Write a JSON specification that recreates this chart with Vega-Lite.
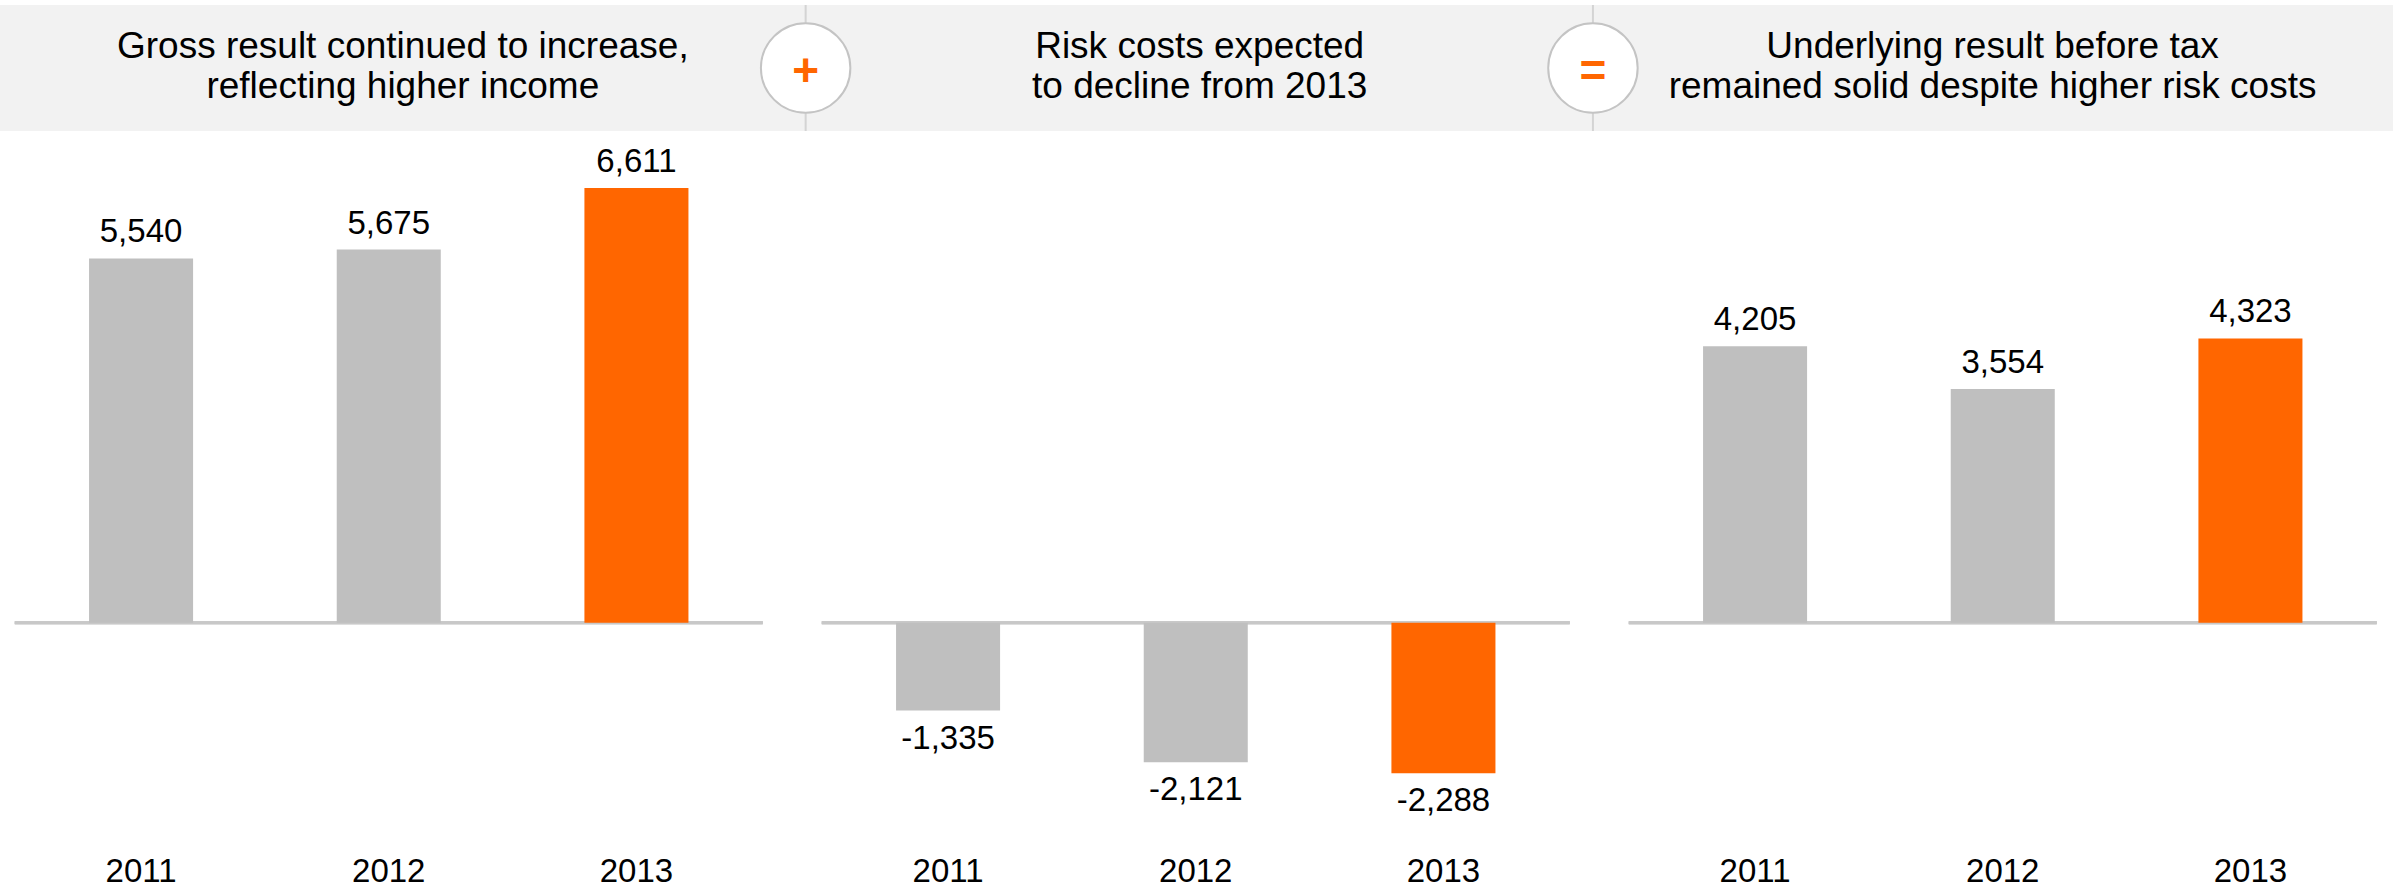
{
  "$schema": "https://vega.github.io/schema/vega-lite/v6.json",
  "padding": {"top": 4, "left": 0, "right": 0, "bottom": 0},
  "background": "white",
  "spacing": 0,
  "center": true,
  "config": {
    "view": {"stroke": null},
    "font": "Liberation Sans",
    "locale": {"number": {"decimal": ".", "thousands": ",", "grouping": [3], "currency": ["$", ""], "minus": "-"}}
  },
  "datasets": {
    "header": [
      {"kind": "title", "pos": 0.505, "label": ["Gross result continued to increase,", "reflecting higher income"]},
      {"kind": "title", "pos": 1.504, "label": ["Risk costs expected", "to decline from 2013"]},
      {"kind": "title", "pos": 2.498, "label": ["Underlying result before tax", "remained solid despite higher risk costs"]},
      {"kind": "op", "pos": 1.01, "label": "+"},
      {"kind": "op", "pos": 1.997, "label": "="}
    ],
    "bars": [
      {"panel": "Gross result", "year": "2011", "value": 5540},
      {"panel": "Gross result", "year": "2012", "value": 5675},
      {"panel": "Gross result", "year": "2013", "value": 6611},
      {"panel": "Risk costs", "year": "2011", "value": -1335},
      {"panel": "Risk costs", "year": "2012", "value": -2121},
      {"panel": "Risk costs", "year": "2013", "value": -2288},
      {"panel": "Underlying result", "year": "2011", "value": 4205},
      {"panel": "Underlying result", "year": "2012", "value": 3554},
      {"panel": "Underlying result", "year": "2013", "value": 4323}
    ]
  },
  "vconcat": [
    {
      "width": 2393,
      "height": 126,
      "view": {"fill": "#f2f2f2", "stroke": null},
      "data": {"name": "header"},
      "encoding": {
        "x": {"field": "pos", "type": "quantitative", "scale": {"domain": [0, 3], "nice": false, "zero": false}, "axis": null}
      },
      "layer": [
        {
          "transform": [{"filter": "datum.kind === 'op'"}],
          "mark": {"type": "rule", "stroke": "#d4d4d4", "strokeWidth": 2}
        },
        {
          "transform": [{"filter": "datum.kind === 'op'"}],
          "mark": {"type": "point", "shape": "circle", "filled": true, "fill": "white", "stroke": "#c4c4c4", "strokeWidth": 2, "size": 8000, "opacity": 1}
        },
        {
          "transform": [{"filter": "datum.kind === 'op'"}],
          "mark": {"type": "text", "fontSize": 46, "fontWeight": "bold", "color": "#ff6600", "baseline": "middle", "align": "center", "dy": 4},
          "encoding": {"text": {"field": "label"}}
        },
        {
          "transform": [{"filter": "datum.kind === 'title'"}],
          "mark": {"type": "text", "fontSize": 37, "lineHeight": 40, "color": "black", "baseline": "middle", "align": "center", "dy": -21},
          "encoding": {"text": {"field": "label"}}
        }
      ]
    },
    {
      "data": {"name": "bars"},
      "facet": {
        "column": {"field": "panel", "type": "nominal", "sort": ["Gross result", "Risk costs", "Underlying result"], "header": {"title": null, "labels": false}}
      },
      "spacing": 55,
      "spec": {
        "width": 748,
        "height": 688,
        "encoding": {
          "x": {
            "field": "year", "type": "ordinal",
            "scale": {"paddingInner": 0.58, "paddingOuter": 0.3},
            "axis": {"title": null, "domain": false, "ticks": false, "labelFontSize": 33, "labelColor": "black", "labelPadding": 35, "labelAngle": 0, "labelFont": "Liberation Sans"}
          },
          "y": {"field": "value", "type": "quantitative", "scale": {"domain": [-3000, 7462], "nice": false, "zero": false}, "axis": null}
        },
        "layer": [
          {
            "mark": {"type": "rule", "stroke": "#c8c8c8", "strokeWidth": 3},
            "encoding": {"x": {"value": 0}, "x2": {"value": 748}, "y": {"datum": 0}}
          },
          {
            "mark": {"type": "bar"},
            "encoding": {
              "y2": {"datum": 0},
              "color": {"condition": {"test": "datum.year === '2013'", "value": "#ff6600"}, "value": "#bfbfbf"}
            }
          },
          {
            "transform": [{"filter": "datum.value >= 0"}],
            "mark": {"type": "text", "fontSize": 33, "baseline": "middle", "dy": -26, "color": "black"},
            "encoding": {"text": {"field": "value", "type": "quantitative", "format": ",d"}}
          },
          {
            "transform": [{"filter": "datum.value < 0"}],
            "mark": {"type": "text", "fontSize": 33, "baseline": "middle", "dy": 28, "color": "black"},
            "encoding": {"text": {"field": "value", "type": "quantitative", "format": ",d"}}
          }
        ]
      }
    }
  ]
}
